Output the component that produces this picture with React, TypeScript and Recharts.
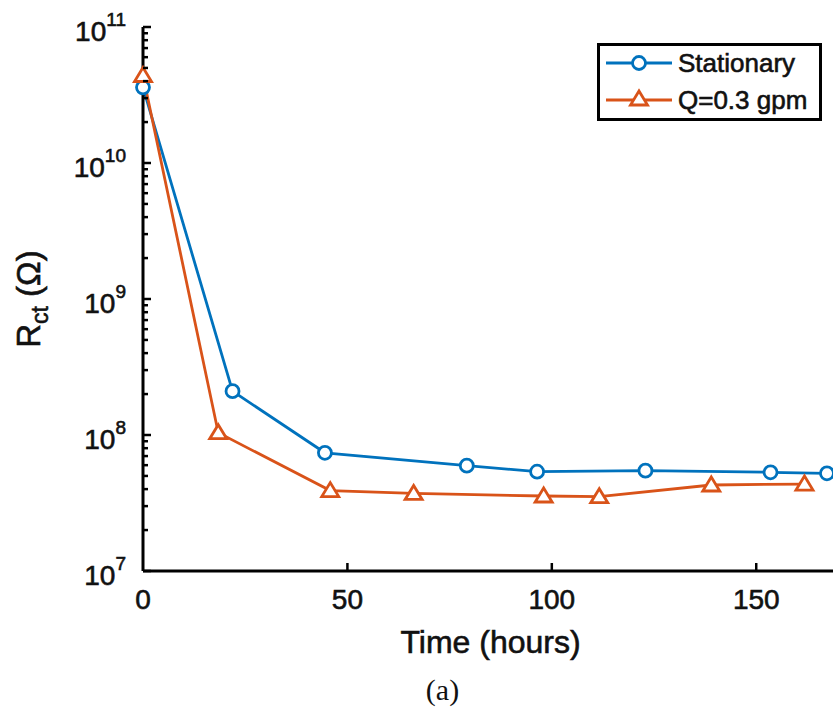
import { LineChart, Line, XAxis, YAxis, Legend } from 'recharts';

// values (hours, ohms)
const stationaryHours = [0, 21.9, 44.5, 79.2, 96.4, 122.9, 153.5, 167.3];
const stationaryRct = [3.6e10, 2.1e8, 7.4e7, 5.95e7, 5.37e7, 5.47e7, 5.32e7, 5.23e7];
const flowHours = [0, 18.4, 45.8, 66.2, 98.0, 111.6, 139.0, 161.8];
const flowRct = [4.4e10, 1.04e8, 3.9e7, 3.72e7, 3.56e7, 3.52e7, 4.29e7, 4.36e7];

const xTicks = [0, 50, 100, 150];
const decades = [7, 8, 9, 10, 11];
const minorSteps = [2, 3, 4, 5, 6, 7, 8, 9];

const BLUE = '#0072BD';
const ORANGE = '#D95319';
const FONT = '"Liberation Sans", Arial, sans-serif';
// the scanned figure has slightly heavy lettering
const INK = { fill: '#111', stroke: '#111', strokeWidth: 0.6 };

const stationaryData = stationaryHours.map((x, i) => ({ x, y: stationaryRct[i] }));
const flowData = flowHours.map((x, i) => ({ x, y: flowRct[i] }));

const majorTicks = decades.map((d) => Math.pow(10, d));
const yTicks = decades.flatMap((d) =>
  d === 11 ? [Math.pow(10, d)] : [Math.pow(10, d), ...minorSteps.map((m) => m * Math.pow(10, d))]
);

function YTick(props: any) {
  const { x, y, payload } = props;
  const v = payload.value;
  const major = majorTicks.includes(v);
  const exp = Math.round(Math.log10(v));
  return (
    <g>
      <line x1={x} y1={y} x2={x + (major ? 8 : 5)} y2={y} stroke="#000" strokeWidth={2.5} />
      {major && (
        <text x={x - 17} y={y + 14} textAnchor="end" fontFamily={FONT} fontSize={28} {...INK}>
          10
          <tspan dy={-15} fontSize={19}>{exp}</tspan>
        </text>
      )}
    </g>
  );
}

function BottomTick(props: any) {
  const { x, y, payload } = props;
  return (
    <g>
      {payload.value !== 0 && <line x1={x} y1={y} x2={x} y2={y - 8} stroke="#000" strokeWidth={2.5} />}
      <text x={x} y={y + 38} textAnchor="middle" fontFamily={FONT} fontSize={28} {...INK}>
        {payload.value}
      </text>
    </g>
  );
}

function TopTick(props: any) {
  const { x, y, payload } = props;
  if (payload.value === 0) return <g />;
  return <line x1={x} y1={y} x2={x} y2={y + 8} stroke="#000" strokeWidth={2.5} />;
}

function XTitle({ viewBox }: any) {
  const { x, y, width } = viewBox;
  const cx = x + width / 2;
  return (
    <g>
      <text x={cx} y={y + 82} textAnchor="middle" fontFamily={FONT} fontSize={32} {...INK}>
        Time (hours)
      </text>
      <text x={cx - 48} y={y + 129} textAnchor="middle" fontFamily='"Liberation Serif", "Times New Roman", serif' fontSize={30} fill="#111">
        (a)
      </text>
    </g>
  );
}

function YTitle({ viewBox }: any) {
  const cy = viewBox.y + viewBox.height / 2;
  const cx = 40;
  return (
    <text x={cx} y={cy} textAnchor="middle" transform={`rotate(-90, ${cx}, ${cy})`} fontFamily={FONT} fontSize={33} {...INK}>
      R
      <tspan dy={8} fontSize={23}>ct</tspan>
      <tspan dy={-8}> (Ω)</tspan>
    </text>
  );
}

function Circle({ cx, cy }: { cx: number; cy: number }) {
  return <circle cx={cx} cy={cy} r={6.5} fill="#fff" stroke={BLUE} strokeWidth={2.8} />;
}

function Triangle({ cx, cy }: { cx: number; cy: number }) {
  return (
    <polygon
      points={`${cx},${cy - 8} ${cx - 8.5},${cy + 6} ${cx + 8.5},${cy + 6}`}
      fill="#fff"
      stroke={ORANGE}
      strokeWidth={2.8}
    />
  );
}

function LegendBox() {
  return (
    <svg width={225} height={78} style={{ display: 'block' }}>
      <rect x={1.5} y={1.5} width={222} height={75} fill="#fff" stroke="#000" strokeWidth={3} />
      <line x1={9} y1={20} x2={75} y2={20} stroke={BLUE} strokeWidth={2.8} />
      <Circle cx={42} cy={20} />
      <text x={81} y={29} fontFamily={FONT} fontSize={26} {...INK}>Stationary</text>
      <line x1={9} y1={57} x2={75} y2={57} stroke={ORANGE} strokeWidth={2.8} />
      <Triangle cx={42} cy={56} />
      <text x={81} y={66} fontFamily={FONT} fontSize={26} {...INK}>Q=0.3 gpm</text>
    </svg>
  );
}

export default function App() {
  return (
    <div style={{ position: 'absolute', left: 0, top: 0, width: 833, height: 708, overflow: 'hidden', background: '#fff' }}>
      <LineChart width={838} height={708} margin={{ top: 27, right: 0, left: 0, bottom: 0 }}>
        <XAxis
          dataKey="x"
          type="number"
          domain={[0, 170]}
          ticks={xTicks}
          interval={0}
          height={137}
          tickSize={0}
          tickMargin={0}
          tickLine={false}
          axisLine={{ stroke: '#000', strokeWidth: 3 }}
          tick={<BottomTick />}
          label={<XTitle />}
        />
        <XAxis
          xAxisId="top"
          orientation="top"
          dataKey="x"
          type="number"
          domain={[0, 170]}
          ticks={xTicks}
          interval={0}
          height={0}
          tickSize={0}
          tickMargin={0}
          tickLine={false}
          axisLine={{ stroke: '#000', strokeWidth: 3 }}
          tick={<TopTick />}
        />
        <YAxis
          type="number"
          scale="log"
          domain={[1e7, 1e11]}
          ticks={yTicks}
          interval={0}
          width={143}
          tickSize={0}
          tickMargin={0}
          tickLine={false}
          axisLine={{ stroke: '#000', strokeWidth: 3 }}
          tick={<YTick />}
          label={<YTitle />}
          allowDataOverflow
        />
        <Legend
          layout="horizontal"
          align="center"
          verticalAlign="middle"
          content={() => <LegendBox />}
          wrapperStyle={{ left: 597, top: 43, width: 225, height: 78 }}
        />
        <Line
          data={stationaryData}
          dataKey="y"
          name="Stationary"
          stroke={BLUE}
          strokeWidth={2.8}
          isAnimationActive={false}
          dot={(p: any) => <Circle key={`s-${p.index}`} cx={p.cx} cy={p.cy} />}
        />
        <Line
          data={flowData}
          dataKey="y"
          name="Q=0.3 gpm"
          stroke={ORANGE}
          strokeWidth={2.8}
          isAnimationActive={false}
          dot={(p: any) => <Triangle key={`f-${p.index}`} cx={p.cx} cy={p.cy} />}
        />
      </LineChart>
    </div>
  );
}
